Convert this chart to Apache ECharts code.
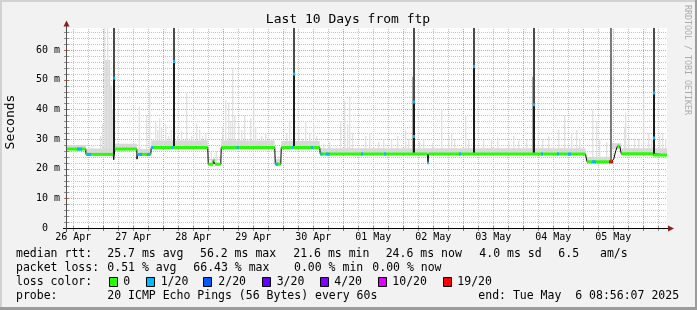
<!DOCTYPE html>
<html><head><meta charset="utf-8">
<script src="https://cdn.jsdelivr.net/npm/echarts@6/dist/echarts.min.js"></script>
<style>html,body{margin:0;padding:0;background:#f2f2f2}#c{width:697px;height:310px}</style>
</head><body><div id="c"></div>
<script>
// x values: hours since 26 Apr 00:00
const dayLabels = ['26 Apr','27 Apr','28 Apr','29 Apr','30 Apr','01 May','02 May','03 May','04 May','05 May'];
const dayNoonHours = [12,36,60,84,108,132,156,180,204,228];
const yTickValues = [0,10,20,30,40,50,60];
const xStart = 9.5, xEnd = 249.5;
const yMax = 67.4;

// median rtt (ms) path
const medianPts = [[9.5,26.6],[17.0,26.6],[17.1,24.8],[27.9,24.8],[28.2,23.0],[28.6,26.6],[37.4,26.6],[37.5,23.2],[37.7,24.8],[43.0,24.8],[43.2,27.1],[65.8,27.1],[66.0,21.5],[67.9,21.5],[68.0,22.8],[68.6,22.8],[68.7,21.5],[71.0,21.5],[71.2,27.1],[92.6,27.1],[92.8,21.5],[95.0,21.5],[95.2,27.1],[110.6,27.1],[110.8,24.9],[153.7,24.9],[153.9,22.0],[154.1,24.9],[216.9,24.9],[217.5,22.3],[227.3,22.3],[228.2,23.3],[229.0,26.0],[229.7,27.6],[230.6,27.6],[231.2,25.0],[244.0,25.0],[244.1,24.6],[249.5,24.6]];
// rtt spikes: [hour, bottom, median]
const spikes = [[28.42,24.8,50.5],[52.3,27.1,56.1],[100.3,27.1,51.9],[148.3,24.9,42.5],[172.3,24.9,54.4],[196.3,24.9,41.5],[244.3,24.5,45.5]];
// loss spikes: [hour, from]
const lossSpikes = [[226.98,22.3]];
// loss marks: [h0, h1, value, lossLevel]
const lossMarks = [[13.5,15.5,26.6,1],[17.3,19.1,24.8,1],[37.7,39.5,24.8,1],[41.5,42.7,24.8,1],[43.3,44.1,27.1,1],[51.4,52.0,27.1,1],[77.3,78.1,27.1,1],[93.1,93.9,21.5,1],[99.5,100.0,27.1,1],[107.1,107.9,27.1,1],[110.9,111.7,24.9,1],[113.0,114.6,24.9,1],[127.1,127.9,24.9,1],[136.3,137.1,24.9,1],[153.6,154.2,22.0,1],[166.3,167.1,24.9,1],[199.1,199.9,24.9,1],[205.5,206.3,24.9,1],[209.9,211.1,24.9,1],[219.5,221.1,22.3,1],[226.3,227.9,22.3,6],
  [28.02,28.82,50.5,1],[51.9,52.7,56.1,1],[99.9,100.7,51.9,1],[147.9,148.7,42.5,1],[171.9,172.7,54.4,1],[195.9,196.7,41.5,1],[243.9,244.7,45.5,1],[147.9,148.7,30.8,1],[243.9,244.7,30.3,1]];
// smoke: [h0, h1, top]
const smokeBands = [[9.5,17.0,28],[17.1,27.9,26.8],[28.6,37.4,28.4],[37.7,43.0,26.6],[43.2,65.8,29.5],[66.0,71.0,23.3],[71.2,92.6,29.5],[92.8,95.0,23.2],[95.2,110.6,29.3],[110.8,216.9,26.9],[217.5,227.3,24],[227.3,231.2,28.6],[231.2,249.5,26.9]];
const smokeSpikes = [[22.8,23.2,31],[23.6,24.0,35],[24.4,24.8,67.4],[24.8,25.6,56.6],[25.6,26.0,67.4],[26.0,26.8,56.6],[26.8,27.6,48],[27.6,28.0,40],
  [38.2,38.6,41],[41.2,41.6,38],[42.4,42.8,46],[44.8,45.2,36],[45.6,46,33],[46.4,46.8,37],[47.2,47.6,34],[48.8,49.2,35],[50,50.4,31],[51,51.4,33],
  [53.6,54,31],[55.2,55.6,32.5],[57.2,57.6,45.4],[59.2,59.6,31],[61.2,61.6,35],[62.4,62.8,33],[63.6,64,31],[64.8,65.2,32],[67,67.4,25.5],[69,69.4,26],
  [71.6,72,34],[72.8,73.2,43],[74,74.4,42],[74.8,75.2,36],[75.6,76,54],[76.4,76.8,38],[78,78.4,35],[79.2,79.6,33],[80.4,80.8,38],
  [82.8,83.2,37],[84,84.4,46],[84.8,85.2,34],[87.2,87.6,31],[88.8,89.2,32],[91.2,91.6,30],[94,94.4,24],[97.2,97.6,32],[98.4,98.8,36],
  [102,102.4,33],[103.6,104,30],[104.8,105.2,36],[106.4,106.8,32],[108,108.4,35],[109.2,109.6,31],[112,112.4,28.5],[114.4,114.8,29],
  [118.8,119.2,36],[120.4,120.8,43],[121.6,122,35],[122.4,122.8,44],[123.6,124,32],[128.8,129.2,31],[130.4,130.8,32],[134,134.4,29],[136,136.4,30],
  [139.2,139.6,30],[141.6,142,31],[144.8,145.2,33],[146,146.4,30],[150.4,150.8,29],[152,152.4,30],[155.6,156,28.6],[159.2,159.6,40],
  [162,162.4,31],[163.2,163.6,32],[164.4,164.8,30],[168.8,169.2,38],[170,170.4,30],[176,176.4,29.6],[179.2,179.6,30],[181.6,182,30.5],
  [186,186.4,29],[188,188.4,31],[190,190.4,29.5],[193.2,193.6,30],[199.6,200,30],[202,202.4,31],[206,206.4,33],[208.4,208.8,38],
  [211.2,211.6,32],[213.2,213.6,33],[214.4,214.8,30],[219.6,220,40],[221.2,221.6,36],[222.4,222.8,30],[225.2,225.6,29],
  [232.4,232.8,34],[232.8,233.2,38.7],[234,234.4,31],[236.4,236.8,30],[238,238.4,30],[240,240.4,45],[242,242.4,32],[243.2,243.6,30],
  [246.4,246.8,31],[247.6,248,32],[248.8,249.2,30]];
const smokeMid = [[147.5,147.9,51],[195.5,195.9,51]];

const lossColors = ['#26ff00','#00b8ff','#0059ff','#5e00ff','#7e00ff','#dd00ff','#ff0000'];
const lossLabels = ['0','1/20','2/20','3/20','4/20','10/20','19/20'];
const statRows = [
  [['median rtt:',16],['25.7 ms avg',107.3],['56.2 ms max',200],['21.6 ms min',293.3],['24.6 ms now',385.7],['4.0 ms sd',479.3],['6.5',558.3],['am/s',600]],
  [['packet loss:',16],['0.51 % avg',107.3],['66.43 % max',193.3],['0.00 % min',294],['0.00 % now',372.3]],
  [['loss color:',16]],
  [['probe:',16],['20 ICMP Echo Pings (56 Bytes) every 60s',107.3],['end: Tue May  6 08:56:07 2025',478.3]]
];
const rowY = [254.3,268.3,282.3,296];
const boxX = [109,145.7,203.3,261.7,320,377.7,442.7];
const boxLabelX = [123.3,160.7,218.3,276.7,334.3,392.3,457.3];

function medianAt(h){
  for(let i=0;i<medianPts.length-1;i++){
    const a=medianPts[i], b=medianPts[i+1];
    if(h>=a[0] && h<=b[0]){ if(b[0]===a[0]) return a[1]; return a[1]+(b[1]-a[1])*(h-a[0])/(b[0]-a[0]); }
  }
  return medianPts[medianPts.length-1][1];
}
const flatSegs=[];
for(let i=0;i<medianPts.length-1;i++){ if(medianPts[i][1]===medianPts[i+1][1]) flatSegs.push([medianPts[i][0],medianPts[i+1][0],medianPts[i][1]]); }
const gridLines=[];
for(let h=12;h<=xEnd;h+=6) gridLines.push([h, h%24===0?1:0]);
for(let v=2;v<yMax;v+=2) gridLines.push([v, v%10===0?3:2]);

const FONT='"DejaVu Sans Mono", monospace';
const minorC='#c4c4c4', majorC='#e39a9a';

function rectFromTo(api,h0,h1,lo,hi,fill,minW){
  const p0=api.coord([h0,hi]), p1=api.coord([h1,lo]);
  return {type:'rect',shape:{x:p0[0],y:p0[1],width:Math.max(minW||1,p1[0]-p0[0]),height:p1[1]-p0[1]},style:{fill:fill}};
}

const chart = echarts.init(document.getElementById('c'),null,{renderer:'canvas'});
const graphic=[];
// frame shading
graphic.push({type:'rect',shape:{x:0,y:0,width:697,height:2},style:{fill:'#d2d2d2'},silent:true});
graphic.push({type:'rect',shape:{x:0,y:0,width:2,height:310},style:{fill:'#d2d2d2'},silent:true});
graphic.push({type:'rect',shape:{x:0,y:307,width:697,height:3},style:{fill:'#9c9c9c'},silent:true});
graphic.push({type:'rect',shape:{x:695,y:0,width:2,height:310},style:{fill:'#9c9c9c'},silent:true});
// axes
graphic.push({type:'line',shape:{x1:63,y1:228.5,x2:669,y2:228.5},style:{stroke:'#000',lineWidth:1},z:20});
graphic.push({type:'line',shape:{x1:66.5,y1:232,x2:66.5,y2:24},style:{stroke:'#505050',lineWidth:1},z:20});
graphic.push({type:'polygon',shape:{points:[[668,225.5],[674,228.5],[668,231.5]]},style:{fill:'#8a1f1f'},z:21});
graphic.push({type:'polygon',shape:{points:[[63.5,26.5],[66.5,20.5],[69.5,26.5]]},style:{fill:'#8a1f1f'},z:21});
// title, axis name, watermark
graphic.push({type:'text',x:348,y:20,style:{text:'Last 10 Days from ftp',font:'13px '+FONT,fill:'#000',align:'center',verticalAlign:'middle'}});
graphic.push({type:'text',x:11,y:122,rotation:Math.PI/2,style:{text:'Seconds',font:'13px '+FONT,fill:'#000',align:'center',verticalAlign:'middle'}});
graphic.push({type:'text',x:687.5,y:60,rotation:-Math.PI/2,style:{text:'RRDTOOL / TOBI OETIKER',font:'8.3px '+FONT,fill:'#ababab',align:'center',verticalAlign:'middle'}});
// legend rows
statRows.forEach((row,ri)=>row.forEach(([t,x])=>graphic.push({type:'text',x:x,y:rowY[ri],style:{text:t,font:'11.5px '+FONT,fill:'#000',align:'left',verticalAlign:'middle'}})));
lossColors.forEach((c,i)=>{
  graphic.push({type:'rect',shape:{x:Math.round(boxX[i])+0.5,y:277.5,width:8,height:9},style:{fill:c,stroke:'#000',lineWidth:1}});
  graphic.push({type:'text',x:boxLabelX[i],y:rowY[2],style:{text:lossLabels[i],font:'11.5px '+FONT,fill:'#000',align:'left',verticalAlign:'middle'}});
});

const option={
  animation:false,
  backgroundColor:'#f2f2f2',
  grid:{left:67,top:28,width:600,height:200,show:true,backgroundColor:'#ffffff',borderWidth:0,containLabel:false,outerBoundsMode:'none'},
  xAxis:{type:'value',min:xStart,max:xEnd,axisLine:{show:false},axisTick:{show:false},splitLine:{show:false},
    axisLabel:{customValues:dayNoonHours,formatter:v=>{const i=dayNoonHours.indexOf(v);return i>=0?dayLabels[i]:'';},margin:4,fontFamily:'DejaVu Sans Mono',fontSize:10,color:'#000'}},
  yAxis:{type:'value',min:0,max:yMax,axisLine:{show:false},axisTick:{show:false},splitLine:{show:false},
    axisLabel:{customValues:yTickValues,formatter:v=>v===0?'0  ':(v+' m'),margin:7,fontFamily:'DejaVu Sans Mono',fontSize:10,color:'#000'}},
  series:[
    {type:'custom',name:'grid',z:1,silent:true,data:gridLines,renderItem:(p,api)=>{
      const v=api.value(0), t=api.value(1);
      if(t<2){
        const a=api.coord([v,0]), b=api.coord([v,yMax]); const x=Math.round(a[0])+0.5; const c=t===1?majorC:minorC;
        return {type:'group',children:[
          {type:'line',shape:{x1:x,y1:a[1],x2:x,y2:b[1]},style:{stroke:c,lineWidth:1,lineDash:[1,1]}},
          {type:'line',shape:{x1:x,y1:a[1]-2,x2:x,y2:a[1]+3},style:{stroke:t===1?'#c46060':'#909090',lineWidth:1}}]};
      } else {
        const a=api.coord([xStart,v]), b=api.coord([xEnd,v]); const y=Math.round(a[1])+0.5; const c=t===3?majorC:minorC;
        return {type:'group',children:[
          {type:'line',shape:{x1:a[0],y1:y,x2:b[0],y2:y},style:{stroke:c,lineWidth:1,lineDash:[1,1]}},
          {type:'line',shape:{x1:a[0]-3,y1:y,x2:a[0]+2,y2:y},style:{stroke:t===3?'#c46060':'#909090',lineWidth:1}}]};
      }
    }},
    {type:'custom',name:'smoke',z:2,silent:true,data:smokeBands.concat(smokeSpikes),renderItem:(p,api)=>{
      const h0=api.value(0),h1=api.value(1),top=api.value(2);
      return rectFromTo(api,h0,h1,medianAt((h0+h1)/2),top,'#d8d8d8',1);
    }},
    {type:'custom',name:'smokeMid',z:3,silent:true,data:smokeMid,renderItem:(p,api)=>{
      const h0=api.value(0),h1=api.value(1),top=api.value(2);
      return rectFromTo(api,h0,h1,medianAt((h0+h1)/2),top,'#a8a8a8',1);
    }},
    {type:'custom',name:'spikes',z:4,silent:true,data:spikes,renderItem:(p,api)=>{
      const h=api.value(0),lo=api.value(1),med=api.value(2);
      const b=api.coord([h,lo]), m=api.coord([h,med]), t=api.coord([h,yMax]);
      const x=Math.round(b[0])-1;
      return {type:'group',children:[
        {type:'rect',shape:{x:x,y:t[1],width:2,height:m[1]-t[1]},style:{fill:'#4a4a4a'}},
        {type:'rect',shape:{x:x,y:m[1],width:2,height:b[1]-m[1]},style:{fill:'#1c1c1c'}}]};
    }},
    {type:'custom',name:'lossSpikes',z:4,silent:true,data:lossSpikes,renderItem:(p,api)=>{
      const h=api.value(0),lo=api.value(1);
      const b=api.coord([h,lo]), t=api.coord([h,yMax]);
      return {type:'rect',shape:{x:Math.round(b[0])-1,y:t[1],width:2,height:b[1]-t[1]},style:{fill:'#7c7c7c'}};
    }},
    {type:'line',name:'median',z:5,silent:true,data:medianPts,symbol:'none',lineStyle:{color:'#000',width:1},clip:true},
    {type:'custom',name:'medianOk',z:6,silent:true,data:flatSegs,renderItem:(p,api)=>{
      const a=api.coord([api.value(0),api.value(2)]), b=api.coord([api.value(1),api.value(2)]);
      return {type:'rect',shape:{x:a[0],y:a[1]-1.5,width:b[0]-a[0],height:3},style:{fill:lossColors[0]}};
    }},
    {type:'custom',name:'loss',z:7,silent:true,data:lossMarks,renderItem:(p,api)=>{
      const a=api.coord([api.value(0),api.value(2)]), b=api.coord([api.value(1),api.value(2)]);
      return {type:'rect',shape:{x:a[0],y:a[1]-1.5,width:Math.max(1,b[0]-a[0]),height:3},style:{fill:lossColors[api.value(3)]}};
    }}
  ],
  graphic:graphic
};
chart.setOption(option);
</script></body></html>
